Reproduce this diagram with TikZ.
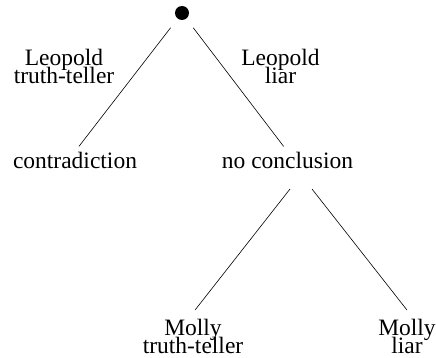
\documentclass[tikz,border=0pt]{standalone}
\usepackage{fontspec}
\setmainfont{Liberation Serif}
\usetikzlibrary{positioning}

\newcommand\treefont{\fontsize{23.5pt}{18pt}\selectfont\lineskiplimit=-30pt\relax}

\begin{document}
\begin{tikzpicture}[
    x=1pt, y=1pt,
    dot/.style={circle, fill=black, minimum size=14pt, inner sep=0pt},
    word/.style={font=\treefont, inner sep=0pt, align=center},
    edge/.style={line width=0.6pt, shorten <=11.4pt, shorten >=6.4pt},
    lowedge/.style={line width=0.6pt, shorten <=17.8pt, shorten >=11.4pt}
]
\useasboundingbox (0,0) rectangle (436,-358);

%% ROOT
\node[dot] (root) at (182,-13) {};

%% FIRST SPLIT
\node[word, anchor=base] (contra) at (75,-168) {contradiction};
\node[word, anchor=base] (nocon) at (287.5,-168) {no conclusion};

\node[word, anchor=north] (leo_tt) at (64,-49) {Leopold\\truth-teller};
\node[word, anchor=north] (leo_liar) at (280.5,-49) {Leopold\\liar};

\draw[edge] (root) -- (contra.north);
\draw[edge] (root) -- (nocon.north);

%% SECOND SPLIT
\coordinate (nofork) at ([xshift=13.5pt, yshift=-7pt]nocon.base);

\node[word, anchor=north] (molly_tt) at (193,-319) {Molly\\truth-teller};
\node[word, anchor=north] (molly_liar) at (407,-319) {Molly\\liar};

\draw[lowedge] (nofork) -- ([xshift=-5pt]molly_tt.north);
\draw[lowedge] (nofork) -- ([xshift=7pt]molly_liar.north);

\end{tikzpicture}
\end{document}
